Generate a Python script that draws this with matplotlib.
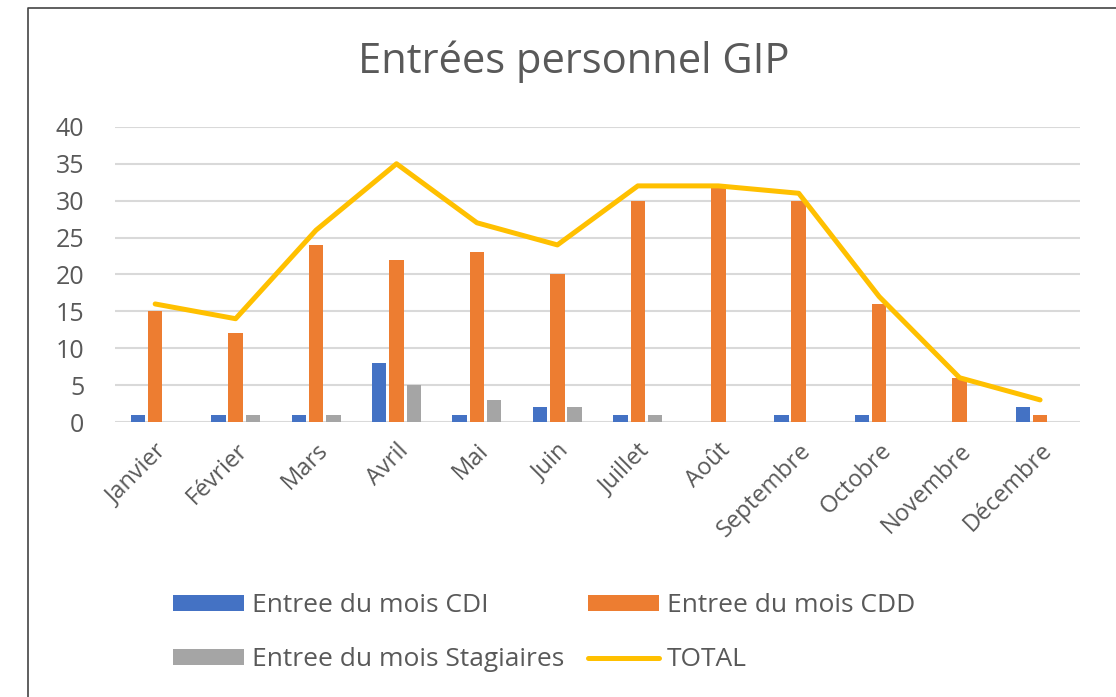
import numpy as np
import matplotlib
matplotlib.use('Agg')
import matplotlib.pyplot as plt
from matplotlib.lines import Line2D

# Data
months = ['Janvier', 'Février', 'Mars', 'Avril', 'Mai', 'Juin', 'Juillet',
          'Août', 'Septembre', 'Octobre', 'Novembre', 'Décembre']
cdi = [1, 1, 1, 8, 1, 2, 1, 0, 1, 1, 0, 2]
cdd = [15, 12, 24, 22, 23, 20, 30, 32, 30, 16, 6, 1]
stagiaires = [0, 1, 1, 5, 3, 2, 1, 0, 0, 0, 0, 0]
total = [16, 14, 26, 35, 27, 24, 32, 32, 31, 17, 6, 3]
yticks = [0, 5, 10, 15, 20, 25, 30, 35, 40]

TEXT = '#595959'
GRID = '#d9d9d9'

plt.rcParams['font.family'] = ['Open Sans', 'DejaVu Sans']

fig = plt.figure(figsize=(11.16, 6.97), dpi=100)
ax = fig.add_axes([0.103, 0.3945, 0.865, 0.4235])

x = np.arange(len(months))
w = 0.18
off = 0.215
b1 = ax.bar(x - off, cdi, w, color='#4472C4', label='Entree du mois CDI', zorder=2)
b2 = ax.bar(x, cdd, w, color='#ED7D31', label='Entree du mois CDD', zorder=2)
b3 = ax.bar(x + off, stagiaires, w, color='#A5A5A5', label='Entree du mois Stagiaires', zorder=2)
ln, = ax.plot(x, total, color='#FFC000', lw=3.6, solid_joinstyle='round',
              solid_capstyle='round', label='TOTAL', zorder=3)

ax.set_xlim(-0.5, len(months) - 0.5)
ax.set_ylim(0, 40)
ax.set_yticks(yticks)
ax.yaxis.grid(True, color=GRID, lw=1.5, zorder=0)
ax.set_axisbelow(True)
for s in ax.spines.values():
    s.set_visible(False)
ax.tick_params(length=0)
ax.tick_params(axis='y', labelsize=18, labelcolor=TEXT, pad=22)
ax.set_xticks(x)
ax.set_xticklabels(months, rotation=45, ha='right', rotation_mode='anchor',
                   fontsize=17, color=TEXT)
ax.tick_params(axis='x', pad=12)

fig.text(0.514, 0.911, 'Entrées personnel GIP', ha='center', va='center',
         fontsize=30, color=TEXT)

leg_line = Line2D([0], [0], color='#FFC000', lw=3.6, solid_capstyle='round')
fig.legend([b1, b3, b2, leg_line],
           ['Entree du mois CDI', 'Entree du mois Stagiaires',
            'Entree du mois CDD', 'TOTAL'],
           loc='center', bbox_to_anchor=(0.4875, 0.092), ncol=2, frameon=False,
           fontsize=19, labelcolor=TEXT, handlelength=2.7, handleheight=0.6,
           handletextpad=0.3, columnspacing=0.9, labelspacing=1.1)

# chart frame (left and top edges visible)
fig.add_artist(Line2D([0.0255, 0.0255, 1.0], [0.0, 0.988, 0.988],
                      transform=fig.transFigure, color='#444444', lw=1.2))

fig.savefig('out.png', dpi=100)
